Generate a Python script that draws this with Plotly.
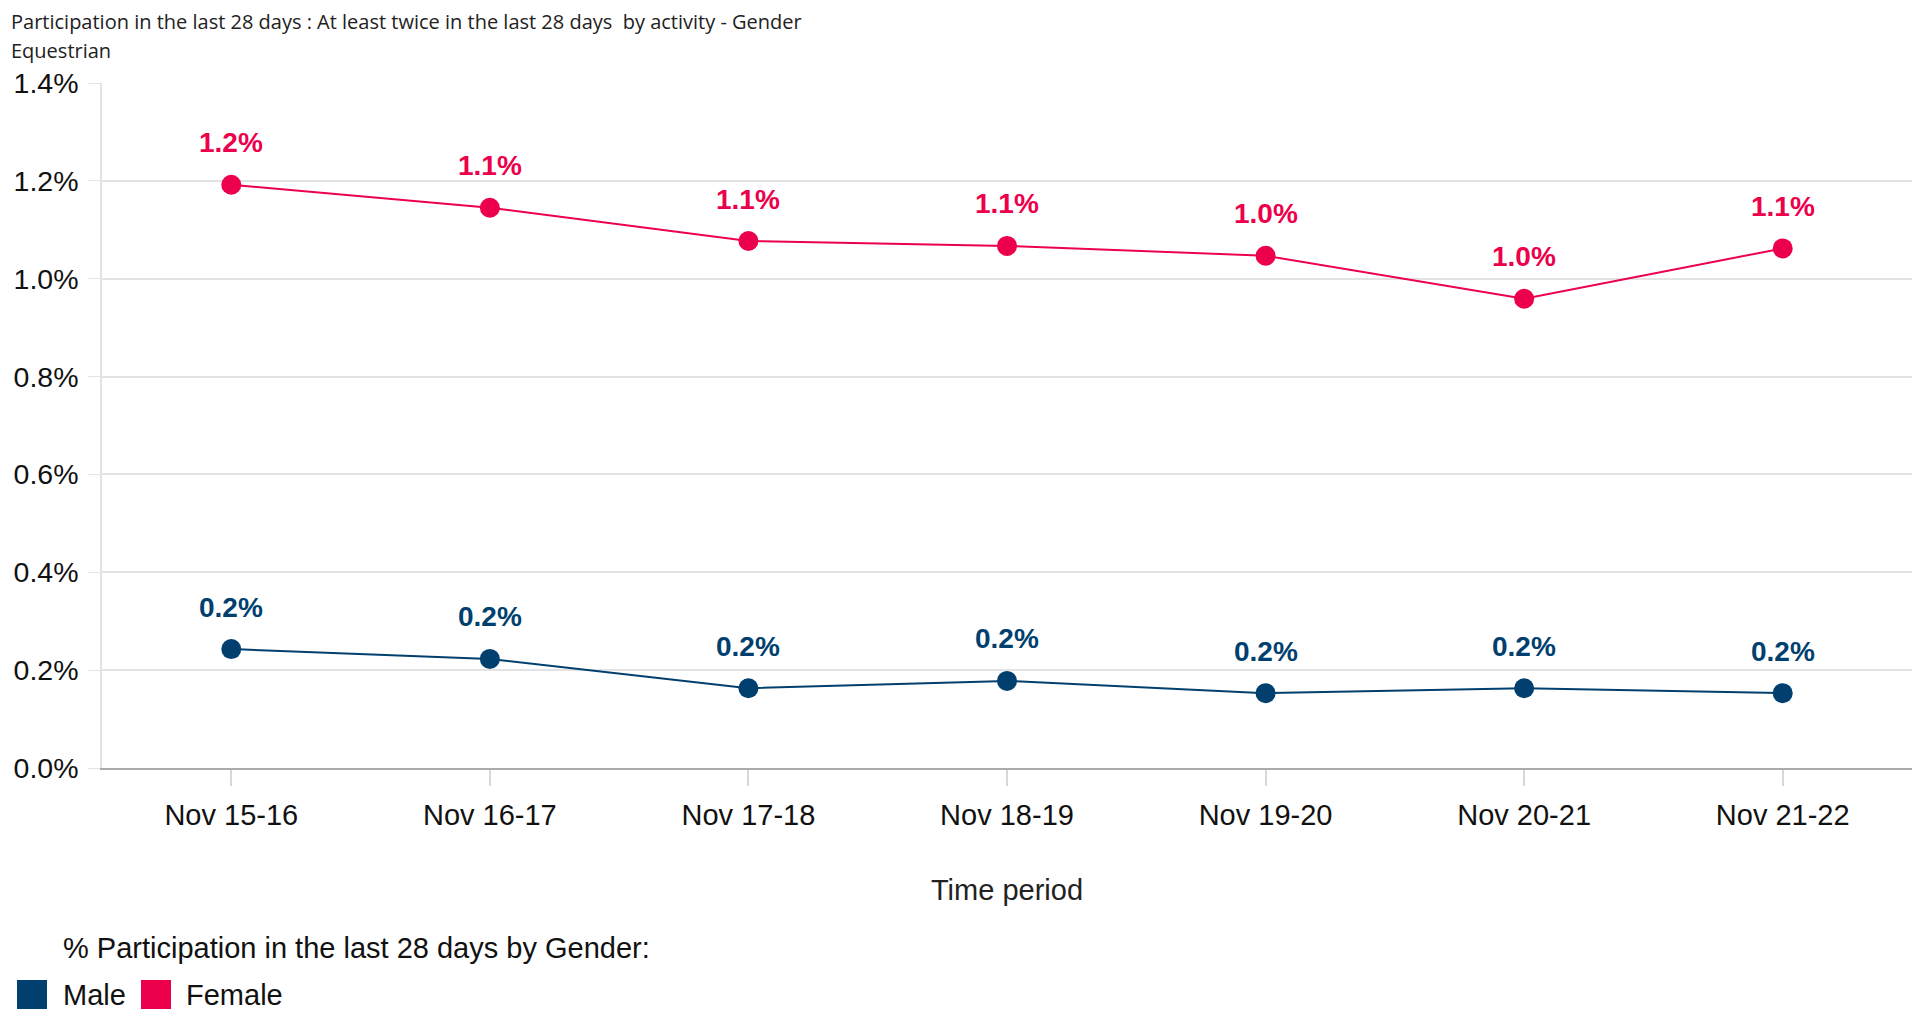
import plotly.graph_objects as go

periods = ["Nov 15-16", "Nov 16-17", "Nov 17-18", "Nov 18-19", "Nov 19-20", "Nov 20-21", "Nov 21-22"]
male = [0.243, 0.223, 0.163, 0.178, 0.153, 0.163, 0.153]
female = [1.192, 1.145, 1.077, 1.067, 1.047, 0.959, 1.062]
male_labels = ["0.2%", "0.2%", "0.2%", "0.2%", "0.2%", "0.2%", "0.2%"]
female_labels = ["1.2%", "1.1%", "1.1%", "1.1%", "1.0%", "1.0%", "1.1%"]
y_ticks = [0, 0.2, 0.4, 0.6, 0.8, 1.0, 1.2, 1.4]
y_tick_text = ["0.0%", "0.2%", "0.4%", "0.6%", "0.8%", "1.0%", "1.2%", "1.4%"]
series_names = ["Male", "Female"]

MALE_C = "#003F6E"
FEMALE_C = "#EC004C"
FONT = "Liberation Sans, Arial, sans-serif"

W, H = 1904, 1010
L, R, T, B = 94, 0, 75, 250
PW, PH = W - L - R, H - T - B


def px(x):
    return (x - L) / PW


def py(y):
    return (H - B - y) / PH


fig = go.Figure()
for name, vals, col in [("Male", male, MALE_C), ("Female", female, FEMALE_C)]:
    fig.add_trace(go.Scatter(
        x=periods, y=vals, mode="lines+markers", name=name,
        line=dict(color=col, width=2), marker=dict(color=col, size=20),
        showlegend=False, hoverinfo="skip"))

ann = []
for vals, labs, col in [(male, male_labels, MALE_C), (female, female_labels, FEMALE_C)]:
    for p, v, t in zip(periods, vals, labs):
        ann.append(dict(x=p, y=v, xref="x", yref="y", text=t, showarrow=False,
                        yshift=42, font=dict(family=FONT, size=28, color=col, weight="bold")))

TFONT = dict(family="Open Sans, sans-serif", size=20, color="#222")
ann.append(dict(xref="paper", yref="paper", x=px(1), y=py(14), xanchor="left", yanchor="middle",
                text="Participation in the last 28 days : At least twice in the last 28 days \u00a0by activity - Gender",
                showarrow=False, font=TFONT))
ann.append(dict(xref="paper", yref="paper", x=px(1), y=py(43), xanchor="left", yanchor="middle",
                text="Equestrian", showarrow=False, font=TFONT))
ann.append(dict(xref="paper", yref="paper", x=px(53), y=py(940), xanchor="left", yanchor="middle",
                text="% Participation in the last 28 days by Gender:", showarrow=False,
                font=dict(family=FONT, size=29, color="#111")))

# custom legend
shapes = []
legend_items = [(series_names[0], MALE_C, 9, 53), (series_names[1], FEMALE_C, 133, 176)]
for name, col, sx, tx in legend_items:
    shapes.append(dict(type="rect", xref="paper", yref="paper", x0=px(sx), x1=px(sx + 30),
                       y0=py(972), y1=py(1001), fillcolor=col, line=dict(width=0)))
    ann.append(dict(xref="paper", yref="paper", x=px(tx), y=py(987), xanchor="left", yanchor="middle",
                    text=name, showarrow=False, font=dict(family=FONT, size=29, color="#111")))

fig.update_layout(
    width=W, height=H,
    margin=dict(l=L, r=R, t=T, b=B),
    plot_bgcolor="white", paper_bgcolor="white",
    font=dict(family=FONT, size=28, color="#111"),
    annotations=ann, shapes=shapes,
    showlegend=False,
    xaxis=dict(type="category", range=[-0.5, 6.5], showgrid=False, showline=True, linecolor="#aaaaaa", linewidth=2,
               ticks="outside", ticklen=16, tickcolor="#d8d8d8", tickwidth=2, ticklabelstandoff=4,
               tickfont=dict(family=FONT, size=29, color="#111"),
               title=dict(text="Time period", standoff=50, font=dict(family=FONT, size=29, color="#222"))),
    yaxis=dict(range=[0, 1.4], tickvals=y_ticks, ticktext=y_tick_text, showgrid=True, gridcolor="#e3e3e3", gridwidth=1.5,
               showline=True, linecolor="#e3e3e3", linewidth=1.5, ticks="outside", ticklen=12, tickcolor="#e3e3e3",
               ticklabelstandoff=4, zeroline=False,
               tickfont=dict(family=FONT, size=28.5, color="#111")),
)

fig.write_html("out.html")
